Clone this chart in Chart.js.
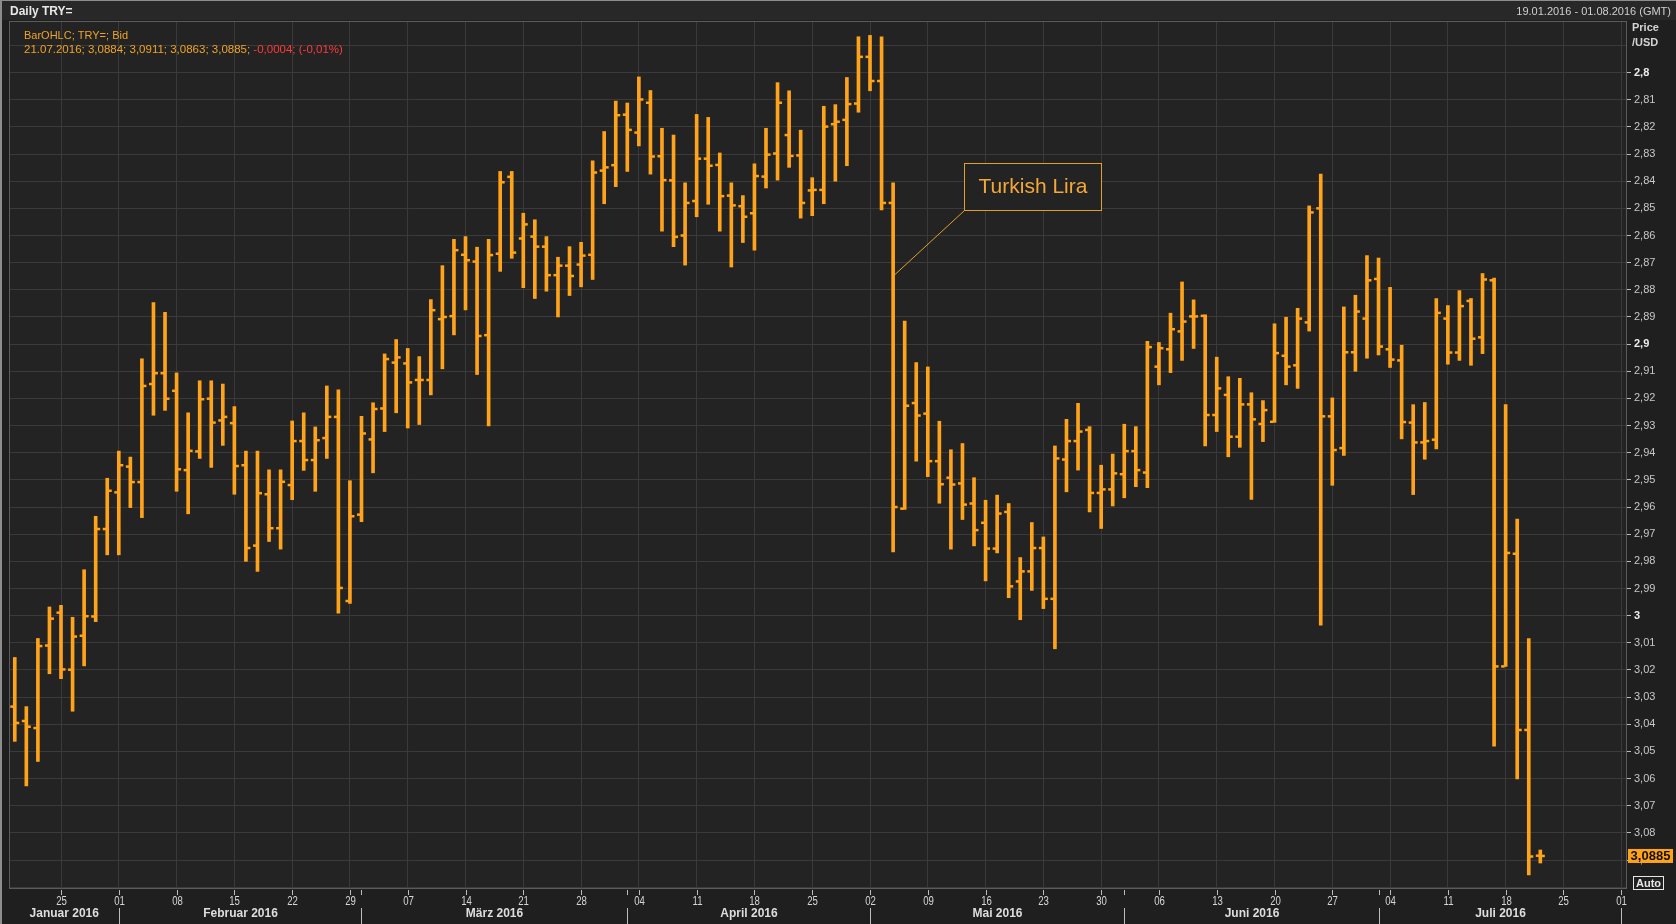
<!DOCTYPE html>
<html>
<head>
<meta charset="utf-8">
<title>Daily TRY=</title>
<script src="https://cdn.jsdelivr.net/npm/chart.js@4.4.1/dist/chart.umd.min.js"></script>
<style>
  html, body { margin: 0; padding: 0; background: #1e1f1e; }
  canvas { display: block; }
</style>
</head>
<body>
<canvas id="chart" width="1676" height="924"></canvas>
<script>
// trading days (weekdays) 19.01.2016 - 01.08.2016
const days = [
  '19.01', '20.01', '21.01', '22.01',
  '25.01', '26.01', '27.01', '28.01', '29.01',
  '01.02', '02.02', '03.02', '04.02', '05.02',
  '08.02', '09.02', '10.02', '11.02', '12.02',
  '15.02', '16.02', '17.02', '18.02', '19.02',
  '22.02', '23.02', '24.02', '25.02', '26.02',
  '29.02', '01.03', '02.03', '03.03', '04.03',
  '07.03', '08.03', '09.03', '10.03', '11.03',
  '14.03', '15.03', '16.03', '17.03', '18.03',
  '21.03', '22.03', '23.03', '24.03', '25.03',
  '28.03', '29.03', '30.03', '31.03', '01.04',
  '04.04', '05.04', '06.04', '07.04', '08.04',
  '11.04', '12.04', '13.04', '14.04', '15.04',
  '18.04', '19.04', '20.04', '21.04', '22.04',
  '25.04', '26.04', '27.04', '28.04', '29.04',
  '02.05', '03.05', '04.05', '05.05', '06.05',
  '09.05', '10.05', '11.05', '12.05', '13.05',
  '16.05', '17.05', '18.05', '19.05', '20.05',
  '23.05', '24.05', '25.05', '26.05', '27.05',
  '30.05', '31.05', '01.06', '02.06', '03.06',
  '06.06', '07.06', '08.06', '09.06', '10.06',
  '13.06', '14.06', '15.06', '16.06', '17.06',
  '20.06', '21.06', '22.06', '23.06', '24.06',
  '27.06', '28.06', '29.06', '30.06', '01.07',
  '04.07', '05.07', '06.07', '07.07', '08.07',
  '11.07', '12.07', '13.07', '14.07', '15.07',
  '18.07', '19.07', '20.07', '21.07', '22.07',
  '25.07', '26.07', '27.07', '28.07', '29.07',
  '01.08'
];

const opens = [
  3.0335, 3.0388, 3.0414, 3.011, 2.9989, 3.0199, 3.0074, 3.0003, 2.9681, 2.9546,
  2.9451, 2.9508, 2.9147, 2.9107, 2.9172, 2.9464, 2.9395, 2.9201, 2.9281, 2.9291,
  2.9446, 2.9742, 2.9553, 2.9678, 2.9519, 2.9357, 2.9427, 2.9346, 2.9268, 2.9946,
  2.9628, 2.9351, 2.9237, 2.9068, 2.9071, 2.9132, 2.9132, 2.8908, 2.8897, 2.8671,
  2.8696, 2.8967, 2.8667, 2.8384, 2.8611, 2.8604, 2.8641, 2.8746, 2.8711, 2.8707,
  2.8671, 2.8361, 2.8341, 2.8155, 2.8221, 2.8111, 2.8308, 2.8397, 2.86, 2.8473,
  2.8317, 2.834, 2.8453, 2.8492, 2.8518, 2.8383, 2.8298, 2.823, 2.8305, 2.8434,
  2.8432, 2.819, 2.8174, 2.8114, 2.7942, 2.8031, 2.848, 2.9606, 2.9217, 2.9256,
  2.9431, 2.9492, 2.9513, 2.9587, 2.9658, 2.9753, 2.9618, 2.9874, 2.9837, 2.9751,
  2.9938, 2.9425, 2.9357, 2.9316, 2.9548, 2.9535, 2.9479, 2.9394, 2.9473, 2.9083,
  2.9019, 2.8953, 2.8898, 2.8896, 2.9261, 2.9187, 2.9341, 2.9222, 2.9294, 2.9286,
  2.9043, 2.9078, 2.892, 2.85, 2.9266, 2.9383, 2.903, 2.8906, 2.876, 2.9019,
  2.906, 2.9289, 2.9362, 2.9352, 2.8906, 2.9031, 2.8841, 2.8975, 2.8765, 3.0187,
  2.9772, 3.0421, 3.0884
];
const highs = [
  3.0463, 3.0627, 3.0537, 3.0214, 3.0232, 3.0352, 3.0185, 3.0022, 2.9776, 2.9776,
  2.9602, 2.9639, 2.9262, 2.9244, 2.9542, 2.9625, 2.9421, 2.9454, 2.9373, 2.9553,
  2.98, 2.9837, 2.9727, 2.9755, 2.9573, 2.9465, 2.9542, 2.9421, 2.9991, 2.9955,
  2.9654, 2.9474, 2.9322, 2.9253, 2.9309, 2.9296, 2.9187, 2.9091, 2.8966, 2.8874,
  2.9112, 2.9301, 2.8732, 2.8684, 2.8792, 2.8832, 2.8805, 2.89, 2.8821, 2.8789,
  2.8762, 2.8483, 2.842, 2.8364, 2.827, 2.8374, 2.8584, 2.8641, 2.8709, 2.8531,
  2.8485, 2.8584, 2.8716, 2.8626, 2.8654, 2.8425, 2.8396, 2.8349, 2.8536, 2.8527,
  2.8483, 2.84, 2.8343, 2.8146, 2.8067, 2.8506, 2.9765, 2.9609, 2.9431, 2.9488,
  2.9586, 2.9755, 2.9646, 2.9743, 2.9872, 2.9769, 2.9934, 3.0015, 2.9907, 2.9974,
  3.0122, 2.9544, 2.9464, 2.9618, 2.9679, 2.9596, 2.9566, 2.9525, 2.9529, 2.915,
  2.9105, 2.906, 2.9016, 2.9375, 2.9322, 2.9415, 2.938, 2.9572, 2.9359, 2.9288,
  2.915, 2.9163, 2.8952, 3.0035, 2.952, 2.941, 2.91, 2.9052, 2.904, 2.9086,
  2.9349, 2.9554, 2.9424, 2.9386, 2.9074, 2.906, 2.9078, 2.9035, 3.0481, 3.0187,
  3.0601, 3.0955, 3.0911
];
const lows = [
  3.0154, 3.0335, 3.0084, 2.9968, 2.9962, 3.0006, 2.9831, 2.9634, 2.9494, 2.9394,
  2.9416, 2.9054, 2.8847, 2.8883, 2.9106, 2.9253, 2.9135, 2.9135, 2.9147, 2.923,
  2.9394, 2.9394, 2.9463, 2.9463, 2.9283, 2.9253, 2.9305, 2.9154, 2.9168, 2.9503,
  2.9266, 2.9216, 2.9036, 2.8983, 2.9016, 2.9046, 2.8836, 2.8711, 2.8614, 2.8604,
  2.8643, 2.8614, 2.8364, 2.8364, 2.8518, 2.8542, 2.8604, 2.868, 2.8641, 2.8625,
  2.8325, 2.8217, 2.8105, 2.8112, 2.8016, 2.8066, 2.8205, 2.823, 2.8406, 2.8154,
  2.8165, 2.8296, 2.8406, 2.8453, 2.8336, 2.8205, 2.8037, 2.8067, 2.8212, 2.8387,
  2.8124, 2.8118, 2.8018, 2.7868, 2.7863, 2.7868, 2.8406, 2.8915, 2.9068, 2.9084,
  2.9284, 2.9389, 2.9366, 2.9492, 2.9575, 2.9556, 2.9587, 2.9786, 2.9657, 2.971,
  2.9375, 2.9277, 2.9218, 2.9304, 2.9446, 2.9405, 2.9295, 2.9304, 2.899, 2.8994,
  2.8886, 2.8771, 2.8837, 2.8892, 2.9048, 2.912, 2.9126, 2.9179, 2.9208, 2.8925,
  2.8901, 2.8868, 2.8491, 2.8374, 2.9198, 2.8863, 2.882, 2.8674, 2.8683, 2.8791,
  2.9004, 2.9223, 2.9215, 2.8832, 2.8858, 2.8803, 2.8832, 2.874, 2.8757, 2.9223,
  2.9644, 3.0084, 3.0863
];
const closes = [
  3.0395, 3.0409, 3.0112, 3.0011, 3.0198, 3.0077, 3.0002, 2.9681, 2.954, 2.9446,
  2.9508, 2.9154, 2.9107, 2.9201, 2.9461, 2.9393, 2.9203, 2.9289, 2.9268, 2.9449,
  2.9751, 2.9549, 2.9678, 2.9507, 2.9357, 2.9427, 2.9354, 2.9268, 2.9898, 2.9634,
  2.9329, 2.9239, 2.9055, 2.9049, 2.9141, 2.9132, 2.8875, 2.89, 2.8654, 2.8691,
  2.897, 2.8672, 2.8404, 2.8663, 2.8559, 2.8641, 2.8746, 2.8711, 2.8749, 2.8674,
  2.8368, 2.8349, 2.8157, 2.8211, 2.8099, 2.8309, 2.8396, 2.8605, 2.848, 2.8317,
  2.8343, 2.8455, 2.8489, 2.8531, 2.8381, 2.8302, 2.8111, 2.8307, 2.848, 2.8432,
  2.8199, 2.8181, 2.8116, 2.7942, 2.8031, 2.848, 2.96, 2.9227, 2.9263, 2.9431,
  2.9516, 2.9517, 2.9591, 2.9685, 2.9753, 2.9624, 2.9892, 2.9837, 2.9751, 2.9938,
  2.9421, 2.9357, 2.9322, 2.9548, 2.9535, 2.9476, 2.9394, 2.9464, 2.9011, 2.9015,
  2.8945, 2.8917, 2.8898, 2.9261, 2.9163, 2.9341, 2.9222, 2.9277, 2.9243, 2.9033,
  2.9083, 2.8906, 2.8515, 2.9266, 2.939, 2.903, 2.888, 2.8765, 2.9009, 2.9057,
  2.9287, 2.9362, 2.9357, 2.8885, 2.9031, 2.886, 2.898, 2.8762, 3.0187, 2.9769,
  3.0421, 3.0887, 3.0885
];

const priceTicks = [
  2.79, 2.8, 2.81, 2.82, 2.83, 2.84, 2.85, 2.86, 2.87, 2.88, 2.89,
  2.9, 2.91, 2.92, 2.93, 2.94, 2.95, 2.96, 2.97, 2.98, 2.99,
  3, 3.01, 3.02, 3.03, 3.04, 3.05, 3.06, 3.07, 3.08, 3.09, 3.1
];
const hiddenTicks = [2.79, 3.1];
const monthNames = ['Januar 2016', 'Februar 2016', 'März 2016', 'April 2016', 'Mai 2016', 'Juni 2016', 'Juli 2016'];

const lastPrice = 3.0885;
const FONT = "'Liberation Sans', Arial, sans-serif";
const ORANGE = '#ffa31a';
const GRID = '#393a39';

function isMonday(i) {
    if (i == null || !days[i]) return false;
    const [d, m] = days[i].split('.').map(Number);
    return new Date(2016, m - 1, d).getDay() === 1;
}
function isMonthStart(i) {
    return i > 0 && days[i].slice(3) !== days[i - 1].slice(3);
}
function fmtPrice(v) {
    return String(+v.toFixed(2)).replace('.', ',');
}
function tickVal(ctx) {
    return ctx && ctx.tick ? ctx.tick.value : NaN;
}
function isMajor(v) {
    return Math.abs(v * 10 - Math.round(v * 10)) < 1e-6;
}
function isHidden(v) {
    return hiddenTicks.some(h => Math.abs(h - v) < 1e-6);
}

function text(ctx, s, x, y, font, color, align) {
    ctx.font = font;
    ctx.fillStyle = color;
    ctx.textAlign = align || 'left';
    ctx.textBaseline = 'middle';
    ctx.fillText(s, x, y);
}

const ohlcPlugin = {
    id: 'ohlc',
    beforeDraw(chart) {
        const { ctx, chartArea: a } = chart;
        ctx.save();
        ctx.fillStyle = '#1e1f1e';
        ctx.fillRect(0, 0, chart.width, chart.height);
        ctx.fillStyle = '#272827';
        ctx.fillRect(0, 0, chart.width, 20);
        ctx.fillStyle = '#222322';
        ctx.fillRect(a.left, a.top, a.right - a.left, a.bottom - a.top);
        ctx.restore();
    },
    afterDatasetsDraw(chart) {
        // open tick on the left, close tick on the right
        const xs = chart.scales.x, ys = chart.scales.y, ctx = chart.ctx;
        ctx.save();
        ctx.fillStyle = ORANGE;
        opens.forEach((o, i) => {
            const px = xs.getPixelForValue(i);
            ctx.fillRect(px - 4.5, ys.getPixelForValue(o) - 1.25, 3.5, 2.5);
            ctx.fillRect(px + 1, ys.getPixelForValue(closes[i]) - 1.25, 3.5, 2.5);
        });
        ctx.restore();
    },
    afterDraw(chart) {
        const { ctx, chartArea: a } = chart;
        const xs = chart.scales.x, ys = chart.scales.y;
        ctx.save();

        // frame
        ctx.strokeStyle = '#5a5b5a';
        ctx.lineWidth = 1;
        ctx.strokeRect(a.left + 0.5, a.top + 0.5, a.right - a.left - 1, a.bottom - a.top);
        ctx.fillStyle = '#8d8d8d';
        ctx.fillRect(0, 0, 2, chart.height);
        ctx.fillRect(0, 0, chart.width, 1);

        // header
        text(ctx, 'Daily TRY=', 10, 12, 'bold 12px ' + FONT, '#e8e8e8');
        text(ctx, '19.01.2016 - 01.08.2016 (GMT)', 1671, 12, '11px ' + FONT, '#cfcfcf', 'right');

        // legend lines
        text(ctx, 'BarOHLC; TRY=; Bid', 24, 36, '11px ' + FONT, '#f0a32c');
        const l2 = '21.07.2016; 3,0884; 3,0911; 3,0863; 3,0885; ';
        text(ctx, l2, 24, 50, '11.5px ' + FONT, '#f0a32c');
        const w2 = ctx.measureText(l2).width;
        text(ctx, '-0,0004; (-0,01%)', 24 + w2, 50, '11.5px ' + FONT, '#ff3a3a');

        // y axis title
        text(ctx, 'Price', 1632, 28, 'bold 11px ' + FONT, '#d4d4d4');
        text(ctx, '/USD', 1632, 43, 'bold 11px ' + FONT, '#d4d4d4');

        // x axis: day labels on Mondays, month separators and month names
        ctx.strokeStyle = '#bdbdbd';
        ctx.lineWidth = 1;
        const seps = [a.left];
        days.forEach((d, i) => {
            const px = Math.round(xs.getPixelForValue(i)) + 0.5;
            if (isMonday(i) || isMonthStart(i)) {
                ctx.beginPath();
                ctx.moveTo(px, a.bottom + 2);
                ctx.lineTo(px, a.bottom + 7);
                ctx.stroke();
            }
            if (isMonthStart(i)) {
                seps.push(px);
                ctx.beginPath();
                ctx.moveTo(px, a.bottom + 20);
                ctx.lineTo(px, chart.height);
                ctx.stroke();
            }
            if (isMonday(i)) {
                ctx.save();
                ctx.translate(px, 902);
                ctx.scale(0.8, 1);
                text(ctx, d.slice(0, 2), 0, 0, '12px ' + FONT, '#d6d6d6', 'center');
                ctx.restore();
            }
        });
        monthNames.forEach((m, k) => {
            const cx = (seps[k] + seps[k + 1]) / 2;
            text(ctx, m, cx, 914, 'bold 12px ' + FONT, '#dedede', 'center');
        });

        // annotation
        const ax = xs.getPixelForValue(76), ay = ys.getPixelForValue(2.875);
        ctx.strokeStyle = '#e0a030';
        ctx.beginPath();
        ctx.moveTo(ax, ay);
        ctx.lineTo(964.5, 210.5);
        ctx.stroke();
        ctx.fillStyle = '#222322';
        ctx.fillRect(964.5, 163.5, 137, 47);
        ctx.strokeRect(964.5, 163.5, 137, 47);
        text(ctx, 'Turkish Lira', 1033, 187, '21px ' + FONT, '#f4a83a', 'center');

        // last price box
        const py = ys.getPixelForValue(lastPrice);
        ctx.fillStyle = ORANGE;
        ctx.fillRect(1628, py - 7, 45, 14);
        text(ctx, '3,0885', 1650.5, py, 'bold 13px ' + FONT, '#111111', 'center');

        // Auto box
        ctx.fillStyle = '#1e1f1e';
        ctx.fillRect(1633.5, 876.5, 30, 13);
        ctx.strokeStyle = '#e6e6e6';
        ctx.strokeRect(1633.5, 876.5, 30, 13);
        text(ctx, 'Auto', 1648.5, 883.5, 'bold 11px ' + FONT, '#e6e6e6', 'center');

        ctx.restore();
    }
};

new Chart(document.getElementById('chart'), {
    type: 'bar',
    data: {
        labels: days,
        datasets: [{
            label: 'TRY=',
            data: lows.map((l, i) => [l, highs[i]]),
            backgroundColor: ORANGE,
            borderWidth: 0,
            barThickness: 3
        }]
    },
    options: {
        responsive: false,
        animation: false,
        layout: { padding: { left: 9, top: 21, right: 0, bottom: 0 } },
        plugins: {
            legend: { display: false },
            tooltip: { enabled: false }
        },
        scales: {
            x: {
                type: 'category',
                offset: true,
                border: { display: false },
                grid: {
                    offset: false,
                    drawTicks: false,
                    color: ctx => isMonday(ctx.index) ? GRID : 'rgba(0,0,0,0)'
                },
                ticks: { display: false, autoSkip: false },
                afterFit: s => { s.height = 36; }
            },
            y: {
                position: 'right',
                reverse: true,
                min: 2.781,
                max: 3.1003,
                border: { display: false },
                afterBuildTicks: s => { s.ticks = priceTicks.map(v => ({ value: v })); },
                grid: {
                    color: GRID,
                    tickLength: 4,
                    tickColor: ctx => isHidden(tickVal(ctx)) ? 'rgba(0,0,0,0)' : '#bdbdbd'
                },
                ticks: {
                    padding: 3,
                    color: ctx => isMajor(tickVal(ctx)) ? '#ececec' : '#c8c8c8',
                    font: ctx => ({ family: FONT, size: 11, weight: isMajor(tickVal(ctx)) ? 'bold' : 'normal' }),
                    callback: v => isHidden(v) ? '' : fmtPrice(v)
                },
                afterFit: s => { s.width = 49; }
            }
        }
    },
    plugins: [ohlcPlugin]
});
</script>
</body>
</html>
